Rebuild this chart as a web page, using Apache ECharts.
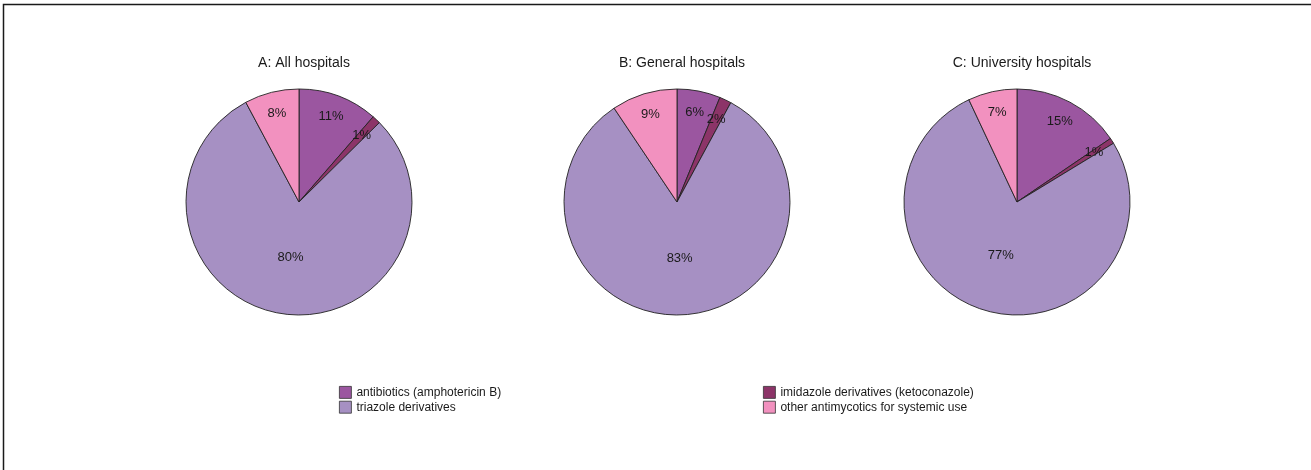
<!DOCTYPE html>
<html>
<head>
<meta charset="utf-8">
<script src="https://cdn.jsdelivr.net/npm/echarts@6/dist/echarts.min.js"></script>
<style>
  html, body { margin: 0; padding: 0; background: #fff; }
  #main { width: 1311px; height: 470px; }
</style>
</head>
<body>
<div id="main"></div>
<script>
var chart = echarts.init(document.getElementById("main"));

var categories = ['antibiotics (amphotericin B)', 'imidazole derivatives (ketoconazole)', 'triazole derivatives', 'other antimycotics for systemic use'];
var colors = ['#9b56a0', '#8c3468', '#a690c3', '#f291bf'];
var titles = ['A: All hospitals', 'B: General hospitals', 'C: University hospitals'];
var allHospitals = [11.4, 1.2, 79.6, 7.8];
var generalHospitals = [6.2, 1.7, 82.7, 9.4];
var universityHospitals = [15.5, 0.8, 76.7, 7.0];

var groups = [allHospitals, generalHospitals, universityHospitals];
var centers = [[299, 202], [677, 202], [1017, 202]];
var R = 113;
var font = "'Liberation Sans', Arial, sans-serif";

var labelStyle = {
    position: 'inside',
    formatter: '{d}%',
    color: '#1a1a1a',
    fontSize: 13,
    fontFamily: font
};

function labelRing(vals, g, radius, showBig) {
    return {
        type: 'pie',
        center: centers[g],
        radius: radius,
        startAngle: 90,
        percentPrecision: 0,
        silent: true,
        animation: false,
        legendHoverLink: false,
        itemStyle: { color: 'rgba(0,0,0,0)', borderWidth: 0 },
        emphasis: { disabled: true },
        label: labelStyle,
        labelLine: { show: false },
        data: vals.map(function (v, i) {
            return { name: categories[i] + (showBig ? '  ' : ' '), value: v, label: { show: (i === 2) === showBig } };
        })
    };
}

var series = [];
groups.forEach(function (vals, g) {
    series.push({
        type: 'pie',
        center: centers[g],
        radius: [0, R],
        startAngle: 90,
        clockwise: true,
        animation: false,
        itemStyle: { borderColor: '#222', borderWidth: 0.9 },
        emphasis: { disabled: true },
        label: { show: false },
        labelLine: { show: false },
        data: vals.map(function (v, i) {
            return { name: categories[i], value: v };
        })
    });
    // labels of the small slices sit near the rim, the big one near the middle
    series.push(labelRing(vals, g, [64, R], false));
    series.push(labelRing(vals, g, [0, 106], true));
});

var legendBase = {
    orient: 'vertical',
    top: 381,
    itemWidth: 12,
    itemHeight: 12,
    itemGap: 2,
    icon: 'rect',
    itemStyle: { borderColor: '#333', borderWidth: 0.8 },
    selectedMode: false,
    textStyle: { fontSize: 12, color: '#1a1a1a', fontFamily: font }
};

var option = {
    backgroundColor: '#fff',
    color: colors,
    title: titles.map(function (t, g) {
        return {
            text: t,
            left: centers[g][0],
            top: 51,
            textAlign: 'center',
            textStyle: { fontSize: 14, fontWeight: 'normal', color: '#1a1a1a', fontFamily: font }
        };
    }),
    legend: [
        Object.assign({}, legendBase, { data: [categories[0], categories[2]], left: 334 }),
        Object.assign({}, legendBase, { data: [categories[1], categories[3]], left: 758 })
    ],
    graphic: [{
        type: 'polyline',
        shape: { points: [[3.5, 470], [3.5, 4.5], [1311, 4.5]] },
        style: { stroke: '#1a1a1a', lineWidth: 1.5, fill: null }
    }],
    series: series
};
chart.setOption(option);
</script>
</body>
</html>
